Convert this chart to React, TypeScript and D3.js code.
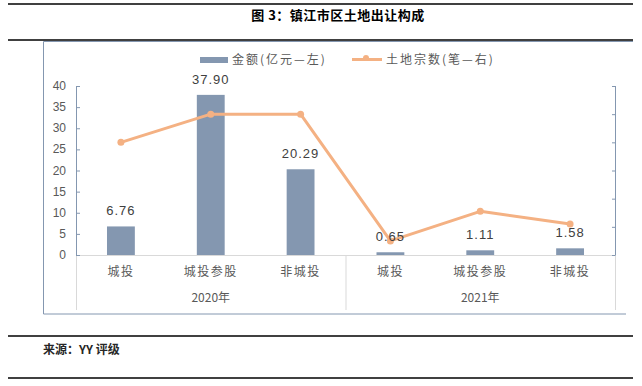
import * as d3 from 'd3'

const years = ['2020年', '2021年']
const types = ['城投', '城投参股', '非城投']
const amounts = [6.76, 37.9, 20.29, 0.65, 1.11, 1.58]
const amountLabels = ['6.76', '37.90', '20.29', '0.65', '1.11', '1.58']
const counts = [40, 50, 50, 5, 15.5, 11]
const leftTicks = [0, 5, 10, 15, 20, 25, 30, 35, 40]
const rightTicks = [0, 10, 20, 30, 40, 50, 60]

const barColor = '#8497b0'
const lineColor = '#f4b183'
const axisColor = '#8497b0'
const gridColor = '#d9d9d9'
const textColor = '#595959'
const cjk = '"Noto Sans CJK SC", sans-serif'
const latin = '"Liberation Sans", Arial, sans-serif'

export default function App() {
  const width = 642,
    height = 386
  const margin = { left: 76, right: 615, top: 86, bottom: 255 }

  const keys = years.flatMap((yr) => types.map((t) => yr + '|' + t))

  const x = d3
    .scaleBand()
    .domain(keys)
    .range([margin.left, margin.right])
    .paddingInner(0.69)
    .paddingOuter(0.345)
  const y = d3.scaleLinear().domain([0, 40]).range([margin.bottom, margin.top])
  const y2 = d3.scaleLinear().domain([0, 60]).range([margin.bottom, margin.top])

  const cx = (i: number) => (x(keys[i]) ?? 0) + x.bandwidth() / 2

  const line = d3
    .line<number>()
    .x((_, i) => cx(i))
    .y((d) => y2(d))

  const groupW = (margin.right - margin.left) / years.length

  return (
    <>
      <style>{`body{margin:0}`}</style>
      <svg width={width} height={height} style={{ display: 'block', background: '#fff' }}>
        {/* title + rules */}
        <line x1={8} x2={633} y1={4} y2={4} stroke="#000" strokeWidth={1.5} />
        <text x={338} y={20} textAnchor="middle" fontFamily={cjk} fontWeight="bold" fontSize={13} letterSpacing={0.5} fill="#000">
          图 3：镇江市区土地出让构成
        </text>
        <line x1={8} x2={633} y1={40} y2={40} stroke="#000" strokeWidth={1.5} />

        {/* chart frame */}
        <path d="M43.5,314 V41.5 H633 M43.5,314 H626" fill="none" stroke={axisColor} strokeWidth={1} />

        {/* legend */}
        <rect x={200} y={57} width={28} height={6} fill={barColor} />
        <text x={232} y={64} fontFamily={cjk} fontSize={12} letterSpacing={2} fill={textColor}>
          金额(亿元—左)
        </text>
        <line x1={352} x2={382} y1={59.5} y2={59.5} stroke={lineColor} strokeWidth={3} />
        <circle cx={366} cy={58} r={3} fill={lineColor} />
        <text x={386} y={64} fontFamily={cjk} fontSize={12} letterSpacing={2} fill={textColor}>
          土地宗数(笔—右)
        </text>

        {/* baseline and category separators */}
        <line x1={margin.left} x2={margin.right} y1={y(0) + 0.5} y2={y(0) + 0.5} stroke={gridColor} />
        {d3.range(years.length + 1).map((i) => (
          <line
            key={'sep' + i}
            x1={margin.left + i * groupW + 0.5}
            x2={margin.left + i * groupW + 0.5}
            y1={y(0)}
            y2={310}
            stroke={gridColor}
          />
        ))}

        {/* bars */}
        {amounts.map((v, i) => (
          <rect key={'b' + i} x={x(keys[i])} y={y(v)} width={x.bandwidth()} height={y(0) - y(v)} fill={barColor} />
        ))}

        {/* left axis */}
        <line x1={margin.left + 0.5} x2={margin.left + 0.5} y1={margin.top} y2={margin.bottom} stroke={axisColor} />
        {leftTicks.map((t) => (
          <g key={'lt' + t}>
            <line x1={margin.left} x2={margin.left + 4} y1={y(t) + 0.5} y2={y(t) + 0.5} stroke={axisColor} />
            <text x={66} y={y(t) + 4} textAnchor="end" fontFamily={latin} fontSize={12} fill={textColor}>
              {t}
            </text>
          </g>
        ))}

        {/* right axis */}
        <line x1={margin.right + 0.5} x2={margin.right + 0.5} y1={margin.top} y2={margin.bottom} stroke={axisColor} />
        {rightTicks.map((t) => (
          <line
            key={'rt' + t}
            x1={margin.right - 3}
            x2={margin.right + 0.5}
            y1={y2(t) + 0.5}
            y2={y2(t) + 0.5}
            stroke={axisColor}
          />
        ))}

        {/* line series */}
        <path d={line(counts) ?? ''} fill="none" stroke={lineColor} strokeWidth={3} strokeLinejoin="round" />
        {counts.map((v, i) => (
          <circle key={'p' + i} cx={cx(i)} cy={y2(v)} r={3.5} fill={lineColor} />
        ))}

        {/* bar value labels */}
        {amounts.map((v, i) => (
          <text
            key={'v' + i}
            x={cx(i)}
            y={y(v) - 11}
            textAnchor="middle"
            fontFamily={latin}
            fontSize={13}
            letterSpacing={1}
            fill="#404040"
          >
            {amountLabels[i]}
          </text>
        ))}

        {/* category labels */}
        {keys.map((k, i) => (
          <text
            key={'c' + k}
            x={cx(i)}
            y={276}
            textAnchor="middle"
            fontFamily={cjk}
            fontSize={12}
            letterSpacing={1.5}
            fill={textColor}
          >
            {types[i % types.length]}
          </text>
        ))}
        {years.map((yr, i) => (
          <text
            key={yr}
            x={margin.left + (i + 0.5) * groupW}
            y={302}
            textAnchor="middle"
            fontFamily={cjk}
            fontSize={12}
            fill={textColor}
          >
            {yr}
          </text>
        ))}

        {/* source */}
        <line x1={8} x2={633} y1={336} y2={336} stroke="#000" strokeWidth={1.5} />
        <text x={43} y={354} fontFamily={cjk} fontWeight="bold" fontSize={12} fill="#262626">
          来源：YY 评级
        </text>
        <line x1={8} x2={633} y1={378} y2={378} stroke="#000" strokeWidth={1.5} />
      </svg>
    </>
  )
}
